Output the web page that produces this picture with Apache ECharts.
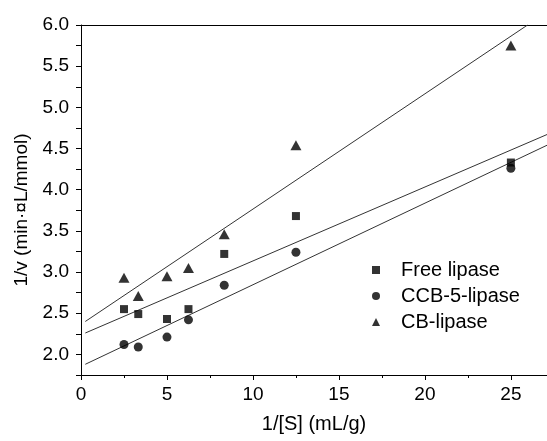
<!DOCTYPE html>
<html>
<head>
<meta charset="utf-8">
<script src="https://cdn.jsdelivr.net/npm/echarts@6/dist/echarts.min.js"></script>
<style>
  html, body { margin: 0; padding: 0; background: #fff; }
  #chart { width: 547px; height: 441px; }
</style>
</head>
<body>
<div id="chart"></div>
<script>
const substrate = [2.5, 3.33, 5, 6.25, 8.33, 12.5, 25]
const freeLipase = [2.55, 2.49, 2.43, 2.55, 3.22, 3.68, 4.33]
const ccbLipase = [2.12, 2.09, 2.21, 2.42, 2.84, 3.24, 4.26]
const cbLipase = [2.93, 2.71, 2.95, 3.05, 3.46, 4.54, 5.75]

// end points of the fitted lines
const freeFit = [[0.25, 2.26], [27.1, 4.67]]
const ccbFit = [[0.25, 1.88], [27.1, 4.54]]
const cbFit = [[0.25, 2.4], [25.97, 6.0]]

const yTitle = "1/v (min·¤L/mmol)"

const font = "'Liberation Sans', Arial, sans-serif"
const pairs = (ys) => substrate.map((x, i) => [x, ys[i]])

const chart = echarts.init(document.getElementById("chart"))

const fitLine = (data) => ({
  type: "line",
  data: data,
  symbol: "none",
  silent: true,
  lineStyle: { color: "#333", width: 1 },
  z: 1,
})

chart.setOption({
  animation: false,
  textStyle: { fontFamily: font },
  grid: { left: 81, right: 0, top: 25, bottom: 66 },
  legend: {
    orient: "vertical",
    left: 367,
    top: 255,
    itemWidth: 8,
    itemHeight: 8,
    itemGap: 6,
    textStyle: { fontSize: 20, color: "#000", fontFamily: font, padding: [0, 0, 0, 16] },
    data: [
      { name: "Free lipase", icon: "rect" },
      { name: "CCB-5-lipase", icon: "circle" },
      { name: "CB-lipase", icon: "triangle" },
    ],
  },
  graphic: [
    {
      type: "text",
      x: 22,
      y: 210,
      rotation: Math.PI / 2,
      style: {
        text: yTitle,
        fontSize: 19,
        fontFamily: font,
        fill: "#000",
        align: "center",
        verticalAlign: "middle",
      },
    },
  ],
  xAxis: [
    {
      type: "value",
      min: 0,
      max: 27.1,
      interval: 5,
      name: "1/[S] (mL/g)",
      nameLocation: "middle",
      nameGap: 39,
      nameTextStyle: { fontSize: 20, color: "#000", fontFamily: font },
      axisLine: { lineStyle: { color: "#000", width: 1 } },
      axisTick: { length: 5, lineStyle: { color: "#000" } },
      minorTick: { show: true, splitNumber: 2, length: 3, lineStyle: { color: "#000" } },
      axisLabel: { fontSize: 19, color: "#000", margin: 10, showMaxLabel: false },
      splitLine: { show: false },
    },
    {
      type: "value",
      position: "top",
      min: 0,
      max: 27.1,
      axisLine: { show: true, lineStyle: { color: "#000", width: 1 } },
      axisTick: { show: false },
      axisLabel: { show: false },
      splitLine: { show: false },
    },
  ],
  yAxis: {
    type: "value",
    min: 1.75,
    max: 6.0,
    interval: 0.25,
    axisLine: { show: true, lineStyle: { color: "#000", width: 1 } },
    axisTick: { length: 5, lineStyle: { color: "#000" } },
    axisLabel: {
      fontSize: 19,
      color: "#000",
      margin: 12,
      formatter: (v) => (Math.abs(v * 2 - Math.round(v * 2)) < 1e-6 ? v.toFixed(1) : ""),
    },
    splitLine: { show: false },
  },
  series: [
    fitLine(freeFit),
    fitLine(ccbFit),
    fitLine(cbFit),
    {
      name: "Free lipase",
      type: "scatter",
      symbol: "rect",
      symbolSize: 8,
      itemStyle: { color: "#000" },
      data: pairs(freeLipase),
      z: 3,
    },
    {
      name: "CCB-5-lipase",
      type: "scatter",
      symbol: "circle",
      symbolSize: 9,
      itemStyle: { color: "#000" },
      data: pairs(ccbLipase),
      z: 3,
    },
    {
      name: "CB-lipase",
      type: "scatter",
      symbol: "triangle",
      symbolSize: [11, 10],
      itemStyle: { color: "#000" },
      data: pairs(cbLipase),
      z: 3,
    },
  ],
})
</script>
</body>
</html>
